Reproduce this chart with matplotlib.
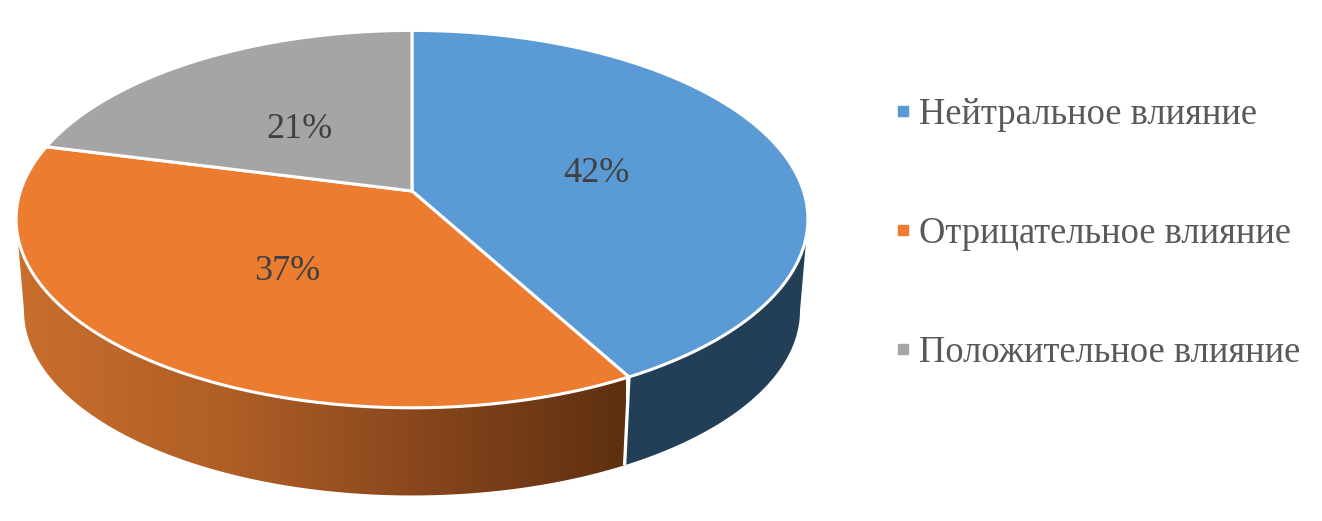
import numpy as np
import matplotlib
matplotlib.use("Agg")
import matplotlib.pyplot as plt
from matplotlib.patches import Polygon
from matplotlib.lines import Line2D
from matplotlib.colors import LinearSegmentedColormap

categories = ["Нейтральное влияние", "Отрицательное влияние", "Положительное влияние"]
values = [42, 37, 21]
colors = ["#5B9BD5", "#EB7C30", "#A5A5A5"]

# layout (pixels)
CX, CY = 412.0, 191.0
A, B, K = 184.5, 391.5, 0.149
DROP_Y, SCALE = 283.0, 0.98
LABEL_XY = [(596, 174), (287, 272), (300, 129)]

def project(theta, cy=CY, s=1.0):
    d = 1 + K * np.cos(theta)
    return np.column_stack([CX + s * B * np.sin(theta) / d,
                            cy - s * A * np.cos(theta) / d])

fig = plt.figure(figsize=(13.22, 5.21), dpi=100)
ax = fig.add_axes([0, 0, 1, 1])
ax.set_xlim(0, 1322)
ax.set_ylim(521, 0)
ax.axis("off")

fr = np.array(values, float) / sum(values)
edges = np.concatenate([[0], np.cumsum(fr)]) * 2 * np.pi
th_ext = np.arccos(-K)                      # right silhouette angle
th_left = 2 * np.pi - th_ext                # left silhouette angle

def side_poly(t0, t1):
    t = np.linspace(t0, t1, 200)
    return np.vstack([project(t), project(t[::-1], DROP_Y, SCALE)])

# blue side (flat dark)
ax.add_patch(Polygon(side_poly(th_ext, edges[1]), closed=True, fc="#233F58",
                     ec="none", zorder=1))
# orange side (horizontal gradient)
cmap = LinearSegmentedColormap.from_list(
    "side", [(0, "#C96F2D"), (0.35, "#AF5E26"), (0.65, "#8A471D"), (1, "#5E3010")])
poly = Polygon(side_poly(edges[1], th_left), closed=True, fc="none", ec="none",
               zorder=1, transform=ax.transData)
ax.add_patch(poly)
grad = np.linspace(0, 1, 256)[None, :]
im = ax.imshow(grad, cmap=cmap, extent=[17, 626, 521, 150], aspect="auto", zorder=1)
im.set_clip_path(poly)
ax.set_xlim(0, 1322)
ax.set_ylim(521, 0)

# divider between side faces
p_top = project(np.array([edges[1]]))[0]
p_bot = project(np.array([edges[1]]), DROP_Y, SCALE)[0]
ax.plot([p_top[0], p_bot[0]], [p_top[1], p_bot[1]], color="white", lw=2.4, zorder=2,
        solid_capstyle="butt")

# top faces
for i, c in enumerate(colors):
    t = np.linspace(edges[i], edges[i + 1], 300)
    pts = np.vstack([[CX, CY], project(t)])
    ax.add_patch(Polygon(pts, closed=True, fc=c, ec="white", lw=2.2, joinstyle="round",
                         zorder=3))

# data labels
for v, (x, y) in zip(values, LABEL_XY):
    ax.text(x, y, f"{v}%", ha="center", va="center", fontsize=26,
            family="Liberation Serif", color="#404040", zorder=4)

# legend
handles = [Line2D([], [], ls="none", marker="s", ms=7.5, mfc=c, mec=c) for c in colors]
ax.legend(handles, categories, loc="upper left", bbox_to_anchor=(884.5, 97),
          bbox_transform=ax.transData, frameon=False,
          prop={"family": "Liberation Serif", "size": 26.3}, labelcolor="#595959",
          labelspacing=2.32, handletextpad=-0.05, handlelength=1.0, borderpad=0,
          borderaxespad=0)

fig.savefig("out.png", dpi=100)
